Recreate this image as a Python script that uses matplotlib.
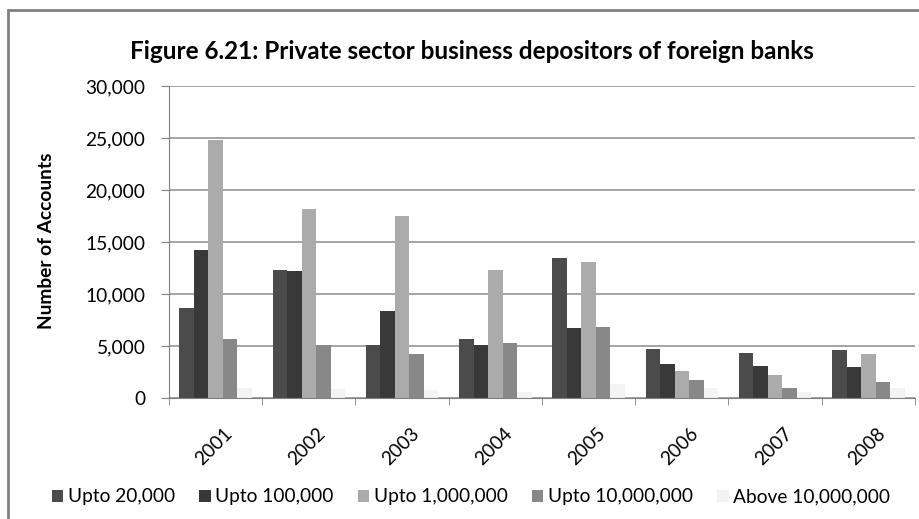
import matplotlib
matplotlib.use("Agg")
import matplotlib.pyplot as plt
import matplotlib.transforms as mtransforms
import numpy as np
from matplotlib.patches import Rectangle

plt.rcParams['font.family'] = ['Lato', 'DejaVu Sans']

years = ["2001", "2002", "2003", "2004", "2005", "2006", "2007", "2008"]
series_names = ["Upto 20,000", "Upto 100,000", "Upto 1,000,000",
                "Upto 10,000,000", "Above 10,000,000"]
upto_20k = [8650, 12300, 5050, 5700, 13450, 4700, 4300, 4600]
upto_100k = [14200, 12200, 8400, 5050, 6700, 3270, 3100, 2980]
upto_1m = [24800, 18200, 17500, 12300, 13100, 2600, 2200, 4200]
upto_10m = [5700, 5050, 4200, 5300, 6800, 1760, 1000, 1500]
above_10m = [1000, 900, 800, 600, 1300, 1000, 600, 1000]
series_values = [upto_20k, upto_100k, upto_1m, upto_10m, above_10m]
colors = ["#4b4b4b", "#393939", "#ababab", "#888888", "#f3f3f3"]

fig = plt.figure(figsize=(9.2, 5.19), dpi=100)
ax = fig.add_axes([169 / 920, 121 / 519, 746 / 920, 312 / 519])

n = len(series_values)
group_w = 0.775
bar_w = group_w / n
x = np.arange(len(years))
for i, (vals, col, name) in enumerate(zip(series_values, colors, series_names)):
    offs = -group_w / 2 + bar_w * (i + 0.5)
    ax.bar(x + offs, vals, width=bar_w, color=col, label=name, linewidth=0)

ax.set_xlim(-0.5, len(years) - 0.5)
ax.set_ylim(0, 30000)
ax.set_yticks(np.arange(0, 30001, 5000))
ax.set_yticklabels([f"{v:,}" for v in range(0, 30001, 5000)], fontsize=13.8)
ax.yaxis.grid(True, color="#8c8c8c", linewidth=1.1)
ax.set_axisbelow(True)

ax.set_xticks(x)
ax.set_xticklabels(years, rotation=45, ha="right", va="top",
                   rotation_mode="anchor", fontsize=13.8)
ax.tick_params(axis="x", length=0, pad=19)
shift = mtransforms.ScaledTranslation(0.08, 0, fig.dpi_scale_trans)
for lbl in ax.get_xticklabels():
    lbl.set_transform(lbl.get_transform() + shift)
# category boundary ticks
ax.set_xticks(np.arange(-0.5, len(years)), minor=True)
ax.tick_params(axis="x", which="minor", length=5, color="#808080")
ax.tick_params(axis="y", length=6, color="#808080", pad=11)

for s in ["top", "right"]:
    ax.spines[s].set_visible(False)
ax.spines["left"].set_color("#808080")
ax.spines["bottom"].set_color("#808080")

ax.set_ylabel("Number of Accounts", fontsize=13.8, fontweight="bold")
ax.yaxis.label.set_va("center")
ax.yaxis.set_label_coords((47 - 169) / 746, 0.503)

fig.text(0.5125, 0.9, "Figure 6.21: Private sector business depositors of foreign banks",
         ha="center", va="center", fontsize=17.5, fontweight="bold")

fig.legend(loc="center", bbox_to_anchor=(0.512, 0.0424), ncol=5, frameon=False,
           fontsize=13.8, handlelength=0.6, handleheight=0.6,
           handletextpad=0.25, columnspacing=1.25, borderpad=0)

# outer chart frame
fig.patches.append(Rectangle((8 / 920, -0.05), 1.2, 1 - 10 / 519 + 0.05,
                             transform=fig.transFigure, fill=False,
                             edgecolor="#808080", linewidth=2))

fig.savefig("out.png", dpi=100)
